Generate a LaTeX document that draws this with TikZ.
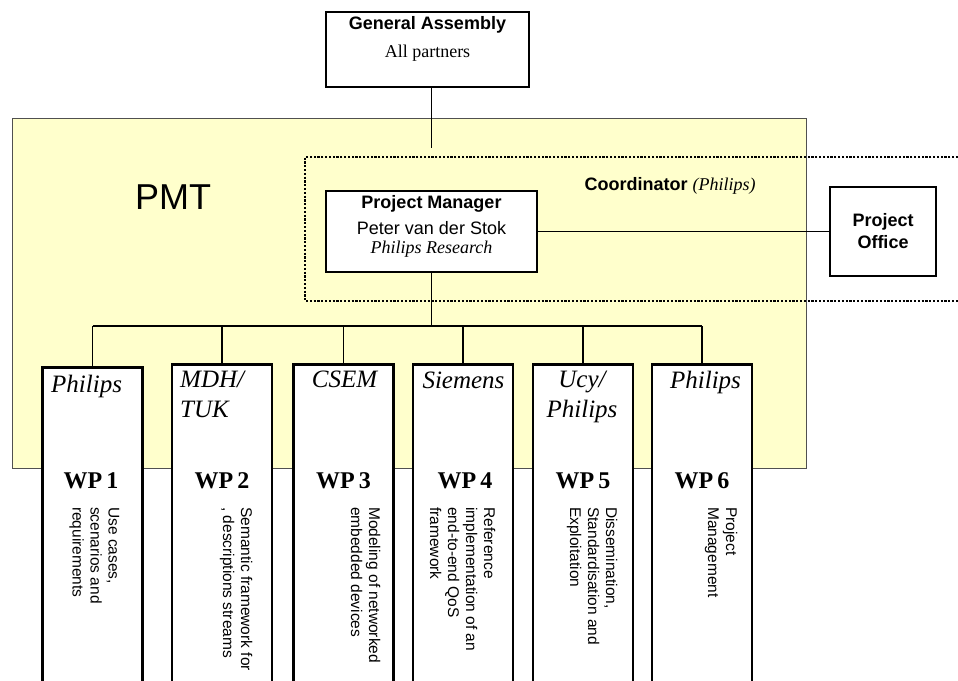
\documentclass[tikz,border=0pt]{standalone}
\usepackage{fontspec}
\setmainfont{Liberation Serif}
\setsansfont{Liberation Sans}
\definecolor{pmtyellow}{HTML}{FFFFCC}
\definecolor{pmtedge}{HTML}{505050}
\begin{document}
\begin{tikzpicture}[x=1pt,y=-1pt,
  box/.style={draw=black, line width=2.6pt, fill=white, inner sep=0pt},
  conn/.style={draw=black, line width=1.3pt},
  wpbox/.style={box, minimum width=100pt, minimum height=340pt, anchor=north},
  party/.style={font=\rmfamily\itshape\fontsize{25pt}{30pt}\selectfont, inner sep=0pt},
  wplabel/.style={font=\rmfamily\bfseries\fontsize{24pt}{28pt}\selectfont, inner sep=0pt, anchor=base},
  desc/.style={font=\sffamily\fontsize{15.5pt}{18pt}\selectfont, align=left, rotate=-90, anchor=north west, inner sep=0pt},
  headtext/.style={font=\sffamily\fontsize{18pt}{23pt}\selectfont, inner sep=0pt}
]
\clip (0,0) rectangle (958,680);
\fill[white] (0,0) rectangle (958,680);

% PMT area
\node[draw=pmtedge, fill=pmtyellow, line width=1.2pt, minimum width=794pt, minimum height=350pt, anchor=north west, inner sep=0pt] (pmt) at (12,118) {};
\node[font=\sffamily\fontsize{36pt}{40pt}\selectfont, inner sep=0pt] (pmtlabel) at (173,197) {PMT};

% Coordinator dotted region (open to the right)
\coordinate (dotTR) at (958,157);
\coordinate (dotTL) at (305,157);
\coordinate (dotBL) at (305,301);
\coordinate (dotBR) at (958,301);
\draw[line width=2.4pt, dash pattern=on 2.2pt off 1.6pt] (dotTR) -- (dotTL) -- (dotBL) -- (dotBR);
\node[headtext] (coord) at (670,186) {{\bfseries Coordinator} {\rmfamily\itshape (Philips)}};

% General Assembly
\node[box, minimum width=203pt, minimum height=75pt] (ga) at (427.5,49.5) {};
\node[headtext, font=\sffamily\bfseries\fontsize{18pt}{23pt}\selectfont] (gat1) at (427.5,25) {General Assembly};
\node[headtext, font=\rmfamily\fontsize{18pt}{23pt}\selectfont] (gat2) at (427.5,53) {All partners};

% Project Manager and Project Office
\node[box, minimum width=211pt, minimum height=81pt] (pm) at (431.5,231.5) {};
\node[headtext, font=\sffamily\bfseries\fontsize{18pt}{23pt}\selectfont] (pmt1) at (431.5,204) {Project Manager};
\node[headtext] (pmt2) at (431.5,228) {Peter van der Stok};
\node[headtext, font=\rmfamily\itshape\fontsize{18pt}{23pt}\selectfont] (pmt3) at (431.5,249) {Philips Research};
\node[box, minimum width=106pt, minimum height=89pt, align=center, font=\sffamily\bfseries\fontsize{18pt}{22pt}\selectfont] (po) at (883,231.5) {Project\\Office};

\coordinate (gaend) at (431.5,148);
\draw[conn] (gaend |- ga.south) -- (gaend);
\draw[conn] (pm.east) -- (po.west);

% Work packages
\node[wpbox] (wp1) at (92.5,366) {};
\node[wpbox] (wp2) at (222,363) {};
\node[wpbox] (wp3) at (343.5,363) {};
\node[wpbox] (wp4) at (463,363) {};
\node[wpbox] (wp5) at (583,363) {};
\node[wpbox] (wp6) at (702,363) {};

% Bus
\coordinate (bus) at (431.5,326);
\draw[conn] (pm.south) -- (bus);
\draw[conn] (wp1.north |- bus) -- (wp6.north |- bus);
\foreach \w in {wp1,wp2,wp3,wp4,wp5,wp6}{
  \draw[conn] (\w.north |- bus) -- (\w.north);
}

% Partner names
\node[party, anchor=base west] (p1) at (51,392) {Philips};
\node[party, anchor=north west, align=left] (p2) at (180,371) {MDH/\\TUK};
\node[party, anchor=base] (p3) at (344.5,387) {CSEM};
\node[party, anchor=base] (p4) at (463.5,388) {Siemens};
\node[party, anchor=north, align=center] (p5) at (582,371) {Ucy/\\Philips};
\node[party, anchor=base] (p6) at (705.5,388) {Philips};

% WP labels
\node[wplabel] (l1) at (91,488) {WP\,1};
\node[wplabel] (l2) at (222,488) {WP\,2};
\node[wplabel] (l3) at (343.5,488) {WP\,3};
\node[wplabel] (l4) at (465,488) {WP\,4};
\node[wplabel] (l5) at (583,488) {WP\,5};
\node[wplabel] (l6) at (702,488) {WP\,6};

% Descriptions
\node[desc] (d1) at (119.5,507) {Use cases,\\scenarios and\\requirements};
\node[desc] (d2) at (252.5,507) {Semantic framework for\\, descriptions streams};
\node[desc] (d3) at (380.5,507) {Modeling of networked\\embedded devices};
\node[desc] (d4) at (495.5,507) {Reference\\implementation of an\\end-to-end QoS\\framework};
\node[desc] (d5) at (617.5,507) {Dissemination,\\Standardisation and\\Exploitation};
\node[desc] (d6) at (737.5,507) {Project\\Management};
\end{tikzpicture}
\end{document}
